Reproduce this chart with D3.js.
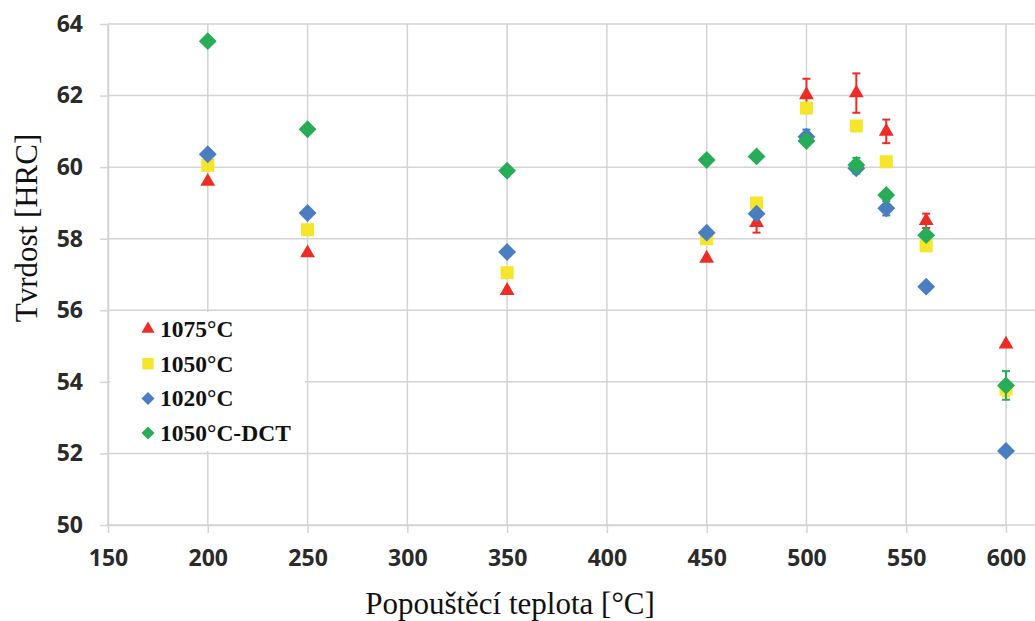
<!DOCTYPE html>
<meta charset="utf-8">
<style>
  body { margin: 0; background: #fff; }
  .grid line { stroke: #d4d4d4; stroke-width: 1.5px; }
  .axis path, .axis line { stroke: #d4d4d4; stroke-width: 1.5px; }
  .axis text { font-family: 'Open Sans', sans-serif; font-weight: 700; font-size: 23px; fill: #2a2a2a; }
  .title { font-family: 'Liberation Serif', serif; font-size: 31px; fill: #111; }
  .legend text { font-family: 'Liberation Serif', serif; font-weight: 700; font-size: 23.5px; fill: #111; }
</style>
<body>
<div id="chart"></div>
<script src="https://d3js.org/d3.v7.min.js"></script>
<script>
// tempering temperature [°C]
var temps = [200, 250, 350, 450, 475, 500, 525, 540, 560, 600];

// hardness [HRC] per austenitising temperature
var h1075 = [59.6, 57.6, 56.55, 57.45, 58.45, 62.02, 62.07, 61.0, 58.5, 55.05];
var h1050 = [60.05, 58.25, 57.05, 58.0, 59.0, 61.65, 61.15, 60.15, 57.8, 53.8];
var h1020 = [60.36, 58.72, 57.63, 58.17, 58.7, 60.85, 59.97, 58.85, 56.66, 52.07];
var hDCT  = [63.52, 61.06, 59.9, 60.2, 60.3, 60.73, 60.06, 59.22, 58.1, 53.9];

// error bars (half range), 0 = none visible
var e1075 = [0, 0, 0, 0, 0.28, 0.45, 0.55, 0.33, 0.2, 0];
var e1050 = [0, 0, 0, 0, 0, 0, 0, 0, 0, 0.2];
var e1020 = [0, 0, 0, 0, 0, 0.2, 0.15, 0.2, 0, 0];
var eDCT  = [0, 0, 0, 0, 0, 0, 0.2, 0, 0, 0.4];

var xTicks = [150, 200, 250, 300, 350, 400, 450, 500, 550, 600];
var yTicks = [50, 52, 54, 56, 58, 60, 62, 64];

var series = [
  {name: '1075°C',     vals: h1075, err: e1075, color: '#ee2b25', shape: 'tri'},
  {name: '1050°C',     vals: h1050, err: e1050, color: '#f5e52b', shape: 'sq'},
  {name: '1020°C',     vals: h1020, err: e1020, color: '#4a7ec0', shape: 'dia'},
  {name: '1050°C-DCT', vals: hDCT,  err: eDCT,  color: '#27ad58', shape: 'dia'}
];

var width = 1035;
var height = 621;
var pL = 108, pR = 1035, pT = 24, pB = 525;

var x = d3.scaleLinear().domain([150, 600]).range([pL, 1006]);
var y = d3.scaleLinear().domain([50, 64]).range([pB, pT]);

var svg = d3.select('#chart').append('svg')
    .attr('width', width)
    .attr('height', height);

// gridlines
var grid = svg.append('g').attr('class', 'grid');
grid.selectAll('.h').data(yTicks).enter().append('line')
    .attr('x1', pL).attr('x2', pR)
    .attr('y1', function (d) { return y(d); })
    .attr('y2', function (d) { return y(d); });
grid.selectAll('.v').data(xTicks).enter().append('line')
    .attr('y1', pT).attr('y2', pB)
    .attr('x1', function (d) { return x(d); })
    .attr('x2', function (d) { return x(d); });

svg.append('g')
    .attr('class', 'axis')
    .attr('transform', 'translate(' + pL + ',0)')
    .call(d3.axisLeft(y).tickValues(yTicks).tickSize(8).tickSizeOuter(0).tickPadding(17));

svg.append('g')
    .attr('class', 'axis')
    .attr('transform', 'translate(0,' + pB + ')')
    .call(d3.axisBottom(x).tickValues(xTicks).tickSize(8).tickSizeOuter(0).tickPadding(17));

// axis titles
svg.append('text')
    .attr('class', 'title')
    .attr('text-anchor', 'middle')
    .attr('x', 510).attr('y', 614)
    .text('Popouštěcí teplota [°C]');

svg.append('text')
    .attr('class', 'title')
    .attr('text-anchor', 'middle')
    .attr('transform', 'translate(37,228) rotate(-90)')
    .text('Tvrdost [HRC]');

function symbolFor(shape) {
  if (shape === 'tri') return d3.symbol().type(d3.symbolTriangle).size(95)();
  if (shape === 'sq') return d3.symbol().type(d3.symbolSquare).size(170)();
  return d3.symbol().type(d3.symbolSquare).size(160)();
}
function rot(shape) { return shape === 'dia' ? ' rotate(45)' : ''; }

// points + error bars
series.forEach(function (s) {
  var g = svg.append('g');
  var pts = temps.map(function (t, i) { return {t: t, v: s.vals[i], e: s.err[i]}; });

  var eb = g.selectAll('.err').data(pts.filter(function (d) { return d.e > 0; }))
      .enter().append('g')
      .attr('stroke', s.color).attr('stroke-width', 2);
  eb.append('line')
      .attr('x1', function (d) { return x(d.t); }).attr('x2', function (d) { return x(d.t); })
      .attr('y1', function (d) { return y(d.v + d.e); }).attr('y2', function (d) { return y(d.v - d.e); });
  eb.append('line')
      .attr('x1', function (d) { return x(d.t) - 4; }).attr('x2', function (d) { return x(d.t) + 4; })
      .attr('y1', function (d) { return y(d.v + d.e); }).attr('y2', function (d) { return y(d.v + d.e); });
  eb.append('line')
      .attr('x1', function (d) { return x(d.t) - 4; }).attr('x2', function (d) { return x(d.t) + 4; })
      .attr('y1', function (d) { return y(d.v - d.e); }).attr('y2', function (d) { return y(d.v - d.e); });

  g.selectAll('path').data(pts).enter().append('path')
      .attr('d', symbolFor(s.shape))
      .attr('fill', s.color)
      .attr('transform', function (d) {
        return 'translate(' + x(d.t) + ',' + y(d.v) + ')' + rot(s.shape);
      });
});

// legend
var legend = svg.append('g').attr('class', 'legend');
legend.append('rect')
    .attr('x', 110).attr('y', 312)
    .attr('width', 195).attr('height', 139)
    .attr('fill', '#fff');
var li = legend.selectAll('.item').data(series).enter().append('g')
    .attr('transform', function (d, i) { return 'translate(148,' + (329 + i * 34.7) + ')'; });
li.append('path')
    .attr('d', function (d) {
      if (d.shape === 'tri') return d3.symbol().type(d3.symbolTriangle).size(75)();
      if (d.shape === 'sq') return d3.symbol().type(d3.symbolSquare).size(130)();
      return d3.symbol().type(d3.symbolSquare).size(85)();
    })
    .attr('fill', function (d) { return d.color; })
    .attr('transform', function (d) { return d.shape === 'dia' ? 'rotate(45)' : ''; });
li.append('text')
    .attr('x', 12).attr('y', 8)
    .text(function (d) { return d.name; });
</script>
</body>
